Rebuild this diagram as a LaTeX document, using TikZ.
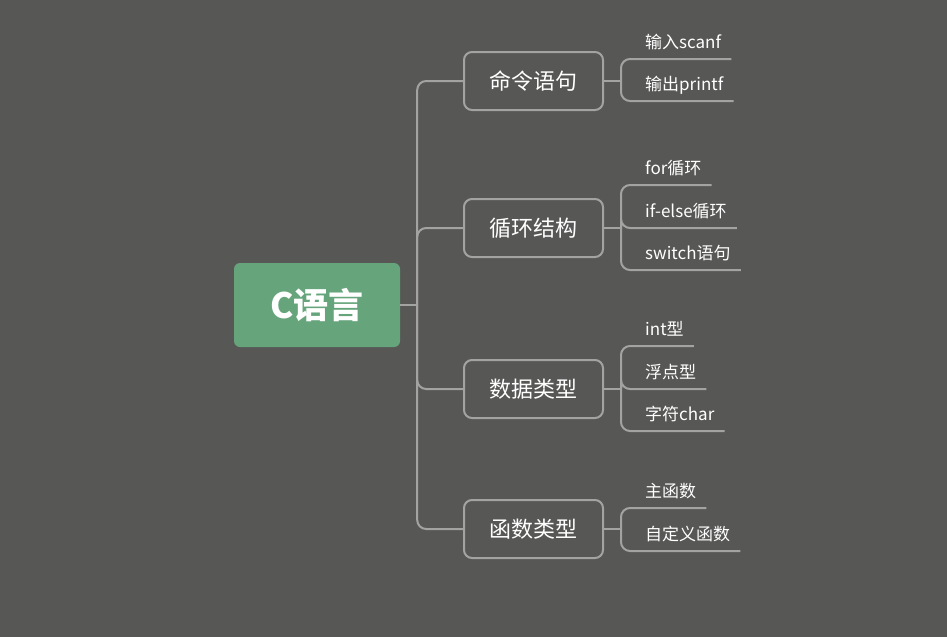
\documentclass[tikz,border=0pt]{standalone}
\usepackage{fontspec}
\setmainfont{Noto Sans CJK SC}
\usepackage{xcolor}
\usepackage{tikz}
\definecolor{bgcol}{HTML}{575855}
\definecolor{rootcol}{HTML}{66A57C}
\definecolor{linecol}{HTML}{A3A3A1}

\begin{document}
\begin{tikzpicture}[
  x=1pt, y=-1pt,
  root/.style={fill=rootcol, rounded corners=6pt, minimum width=166pt, minimum height=84pt, text=white, font=\fontsize{35}{38}\selectfont\bfseries},
  topic/.style={draw=linecol, line width=2pt, rounded corners=8pt, minimum width=139pt, minimum height=58pt, text=white, font=\fontsize{22}{25}\selectfont},
  leaf/.style={anchor=south west, inner sep=0pt, text depth=10.5pt, text=white, font=\fontsize{17}{20}\selectfont},
  link/.style={draw=linecol, line width=2pt, rounded corners=9pt}
]
\useasboundingbox[fill=bgcol] (0,0) rectangle (947,637);

\node[root] (lang) at (317,305) {C语言};

\node[topic] (cmd)  at (533.5,81)  {命令语句};
\node[topic] (loop) at (533.5,228) {循环结构};
\node[topic] (data) at (533.5,389) {数据类型};
\node[topic] (func) at (533.5,529) {函数类型};

\node[leaf] (scanf)  at (645,59)  {输入scanf};
\node[leaf] (printf) at (645,101) {输出printf};
\node[leaf] (for)    at (645,185) {for循环};
\node[leaf] (ifelse) at (645,228) {if-else循环};
\node[leaf] (switch) at (645,270) {switch语句};
\node[leaf] (int)    at (645,346) {int型};
\node[leaf] (float)  at (645,389) {浮点型};
\node[leaf] (char)   at (645,431) {字符char};
\node[leaf] (main)   at (645,508) {主函数};
\node[leaf] (self)   at (645,551) {自定义函数};

% trunk
\draw[link] (lang.east) -- ++(17,0) coordinate (trunk);
\foreach \t in {cmd,loop,data,func}
  \draw[link] (trunk) |- (\t.west);

% leaves
\draw[link] (cmd.east) -- ++(17,0) coordinate (f1);
\foreach \l in {scanf,printf}
  \draw[link] (f1) |- ([xshift=10pt]\l.south east);
\draw[link] (loop.east) -- ++(17,0) coordinate (f2);
\foreach \l in {for,ifelse,switch}
  \draw[link] (f2) |- ([xshift=10pt]\l.south east);
\draw[link] (data.east) -- ++(17,0) coordinate (f3);
\foreach \l in {int,float,char}
  \draw[link] (f3) |- ([xshift=10pt]\l.south east);
\draw[link] (func.east) -- ++(17,0) coordinate (f4);
\foreach \l in {main,self}
  \draw[link] (f4) |- ([xshift=10pt]\l.south east);
\end{tikzpicture}
\end{document}
